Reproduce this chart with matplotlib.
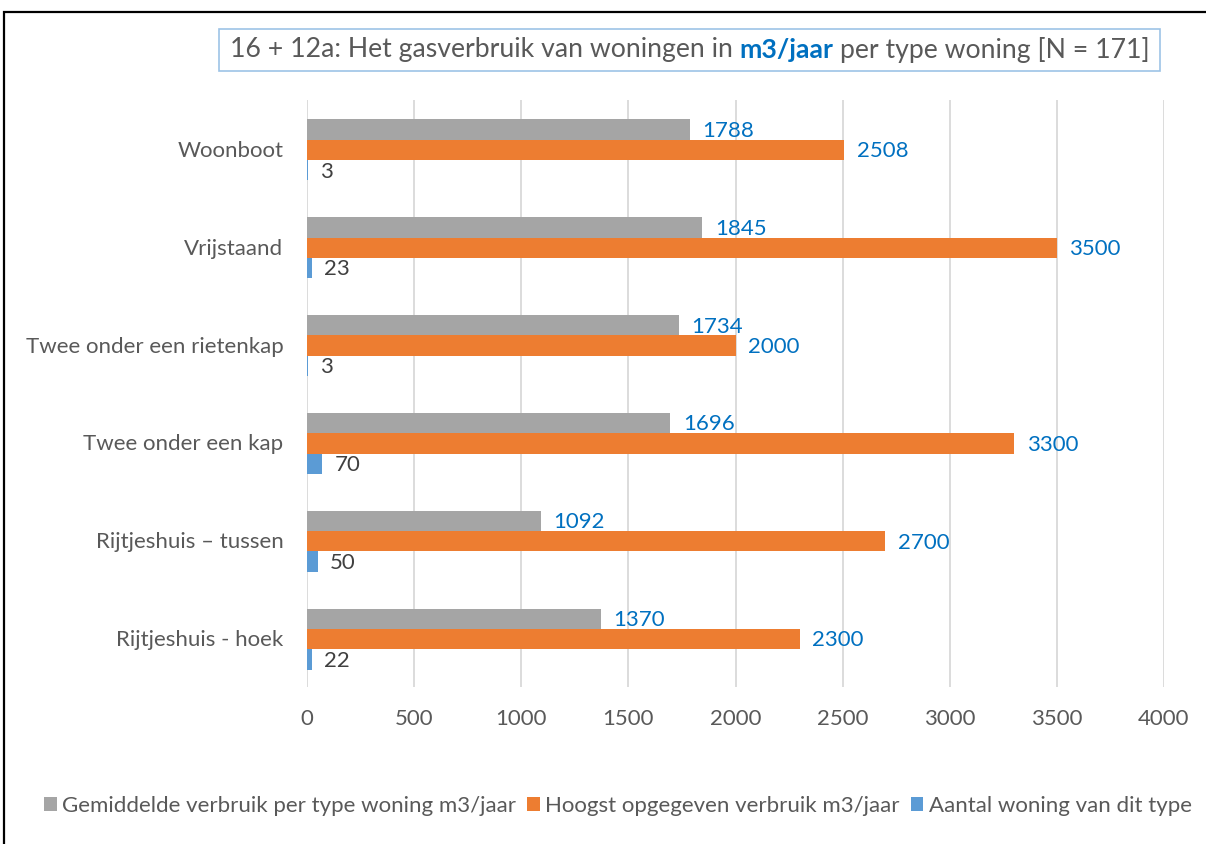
import matplotlib
matplotlib.use("Agg")
import matplotlib.pyplot as plt
import numpy as np
from matplotlib.patches import Rectangle, Patch

plt.rcParams['font.family'] = ['Lato', 'DejaVu Sans']

categories = ["Woonboot", "Vrijstaand", "Twee onder een rietenkap",
              "Twee onder een kap", "Rijtjeshuis \u2013 tussen", "Rijtjeshuis - hoek"]
gemiddeld = [1788, 1845, 1734, 1696, 1092, 1370]
hoogst = [2508, 3500, 2000, 3300, 2700, 2300]
aantal = [3, 23, 3, 70, 50, 22]
series_names = ["Gemiddelde verbruik per type woning m3/jaar",
                "Hoogst opgegeven verbruik m3/jaar",
                "Aantal woning van dit type"]
xticks = [0, 500, 1000, 1500, 2000, 2500, 3000, 3500, 4000]

W, H = 1206, 844
fig = plt.figure(figsize=(W / 100, H / 100), dpi=100)
ax = fig.add_axes([307 / W, 1 - 687 / H, (1164 - 307) / W, (687 - 100) / H])

c_gray, c_orange, c_blue = "#A5A5A5", "#ED7D31", "#5B9BD5"
txt_gray = "#595959"
lbl_blue = "#0070C0"

n = len(categories)
y = np.arange(n)
bh = 0.208
series = [(gemiddeld, c_gray, -bh, lbl_blue), (hoogst, c_orange, 0, lbl_blue), (aantal, c_blue, bh, "#404040")]
fs_lbl = 16
for vals, col, off, lc in series:
    bars = ax.barh(y + off + 0.01, vals, height=bh, color=col, zorder=3)
    for b, v in zip(bars, vals):
        ax.annotate(str(v), (b.get_width(), b.get_y() + b.get_height() / 2),
                    xytext=(9, -1), textcoords="offset points", va="center", ha="left",
                    color=lc, fontsize=fs_lbl, zorder=4)

ax.set_xlim(0, 4000)
ax.set_ylim(n - 0.5, -0.5)
ax.set_xticks(xticks)
ax.set_xticklabels([str(t) for t in xticks])
ax.set_yticks(y)
ax.set_yticklabels(categories)
ax.tick_params(axis="both", length=0, labelsize=fs_lbl, labelcolor=txt_gray)
ax.tick_params(axis="x", pad=16)
ax.tick_params(axis="y", pad=17)
ax.grid(axis="x", color="#D9D9D9", linewidth=1.3, zorder=0)
for s in ax.spines.values():
    s.set_visible(False)

# outer border (cropped at right/bottom)
fig.patches.append(Rectangle((4 / W, -0.05), 1.2, 1 - 12 / H + 0.05, transform=fig.transFigure,
                             fill=False, edgecolor="black", linewidth=1.6, zorder=10))

# title with mixed styles
fig.canvas.draw()
r = fig.canvas.get_renderer()
fs_t = 19.2
pieces = [("16 + 12a: Het gasverbruik van woningen in", txt_gray, "normal"),
          ("m3/jaar", lbl_blue, "bold"),
          ("per type woning [N = 171]", txt_gray, "normal")]
tmp = fig.text(0, 0, "a a", fontsize=fs_t)
w1 = tmp.get_window_extent(r).width
tmp.set_text("aa")
w2 = tmp.get_window_extent(r).width
tmp.remove()
space = w1 - w2
x = 230
ty = 1 - 50 / H
for i, (s, c, wt) in enumerate(pieces):
    t = fig.text(x / W, ty, s, fontsize=fs_t, color=c, fontweight=wt, va="center", ha="left")
    x += t.get_window_extent(r).width + space
x_end = x - space
fig.patches.append(Rectangle((219 / W, 1 - 71 / H), (max(x_end + 10, 1160) - 219) / W, 42 / H,
                             transform=fig.transFigure, fill=False, edgecolor="#9DC3E6", linewidth=1.2))

handles = [Patch(facecolor=c) for c in (c_gray, c_orange, c_blue)]
fig.legend(handles, series_names, loc="center", bbox_to_anchor=(0.5 + 15 / W, 1 - 806 / H), ncol=3,
           frameon=False, fontsize=fs_lbl, handlelength=0.55, handleheight=0.55,
           handletextpad=0.25, columnspacing=0.5, labelcolor=txt_gray)

fig.savefig("out.png", dpi=100)
